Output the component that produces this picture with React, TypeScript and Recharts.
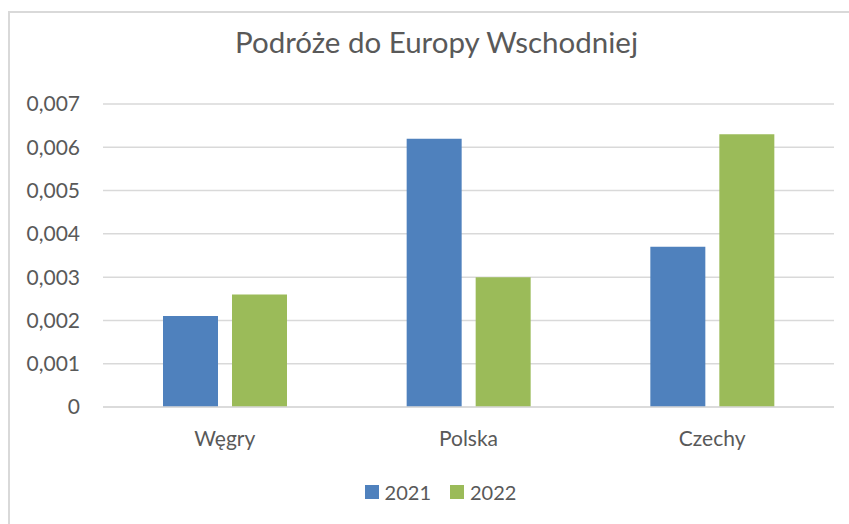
import { BarChart, Bar, XAxis, YAxis, CartesianGrid, Legend } from 'recharts';

const categories = ['Węgry', 'Polska', 'Czechy'];
const values2021 = [0.0021, 0.0062, 0.0037];
const values2022 = [0.0026, 0.003, 0.0063];
const yTicks = [0, 0.001, 0.002, 0.003, 0.004, 0.005, 0.006, 0.007];

const SERIES = [
  { key: 'y2021', name: '2021', color: '#4F81BD' },
  { key: 'y2022', name: '2022', color: '#9BBB59' },
];

const FONT = 'Lato, "Open Sans", sans-serif';
const TEXT = '#595959';

const chartData = categories.map((name, i) => ({
  name,
  y2021: values2021[i],
  y2022: values2022[i],
}));

const formatTick = (v: number) => (v === 0 ? '0' : v.toFixed(3).replace('.', ','));

function LegendContent() {
  return (
    <div
      style={{
        display: 'flex',
        justifyContent: 'center',
        alignItems: 'center',
        height: 30,
        paddingLeft: 22,
        fontFamily: FONT,
        fontSize: 20,
        color: TEXT,
      }}
    >
      {SERIES.map((s, i) => (
        <div key={s.key} style={{ display: 'flex', alignItems: 'center', marginLeft: i ? 19 : 0 }}>
          <span style={{ width: 14, height: 14, background: s.color, marginRight: 6 }} />
          <span>{s.name}</span>
        </div>
      ))}
    </div>
  );
}

export default function App() {
  return (
    <div
      style={{
        position: 'absolute',
        left: 8,
        top: 11,
        width: 841,
        height: 513,
        boxSizing: 'border-box',
        borderLeft: '2px solid #d9d9d9',
        borderTop: '2px solid #d9d9d9',
        background: '#fff',
        overflow: 'hidden',
      }}
    >
      <div
        style={{
          position: 'absolute',
          top: 14,
          left: 0,
          width: 839,
          paddingLeft: 14,
          boxSizing: 'border-box',
          textAlign: 'center',
          fontFamily: FONT,
          fontSize: 29.5,
          lineHeight: '29.5px',
          color: TEXT,
          zIndex: 1,
        }}
      >
        Podróże do Europy Wschodniej
      </div>
      <BarChart
        width={839}
        height={511}
        data={chartData}
        margin={{ top: 91, right: 15, bottom: 17, left: 0 }}
        barSize={55}
        barGap={14}
      >
        <CartesianGrid vertical={false} stroke="#d9d9d9" strokeWidth={1.5} />
        <XAxis
          dataKey="name"
          height={70}
          axisLine={{ stroke: '#d9d9d9', strokeWidth: 1.5 }}
          tickLine={false}
          tickSize={0}
          tickMargin={24}
          tick={{ fill: TEXT, fontFamily: FONT, fontSize: 21 }}
        />
        <YAxis
          width={93}
          domain={[0, 0.007]}
          ticks={yTicks}
          tickFormatter={formatTick}
          axisLine={false}
          tickLine={false}
          tickSize={0}
          tickMargin={23}
          tick={{ fill: TEXT, fontFamily: FONT, fontSize: 21 }}
        />
        <Legend
          verticalAlign="bottom"
          height={30}
          content={() => <LegendContent />}
          wrapperStyle={{ left: 0, width: 839 }}
        />
        {SERIES.map((s) => (
          <Bar key={s.key} dataKey={s.key} name={s.name} fill={s.color} isAnimationActive={false} />
        ))}
      </BarChart>
    </div>
  );
}
